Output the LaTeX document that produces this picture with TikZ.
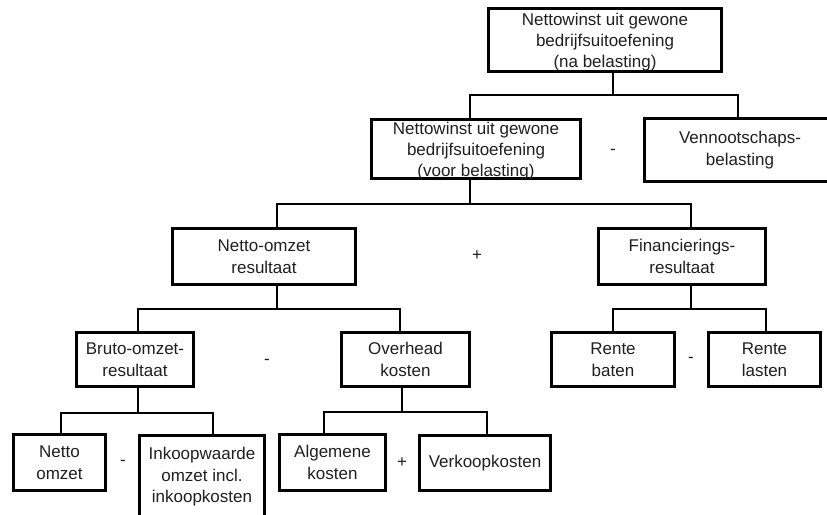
\documentclass[tikz,border=0pt]{standalone}
\usepackage{fontspec}
\setmainfont{Liberation Sans}
\begin{document}
\begin{tikzpicture}[x=1pt,y=-1pt,
  box/.style={draw=black,line width=3pt,align=center,inner sep=0pt,text=black!88,font=\fontsize{17}{21.5}\selectfont},
  txt/.style={align=center,inner sep=0pt,text=black!88,font=\fontsize{17}{21}\selectfont},
  conn/.style={draw=black,line width=2pt},
  op/.style={inner sep=0pt,text=black!88,font=\fontsize{17}{21.5}\selectfont}]
\useasboundingbox (0,0) rectangle (827,514);
% boxes
\node[box,minimum width=233,minimum height=63] (T) at (605,40) {};
\node[txt] (Tt) at (605,42.5) {Nettowinst uit gewone\\bedrijfsuitoefening\\(na belasting)};
\node[box,minimum width=209,minimum height=59] (V) at (476,149) {};
\node[txt] (Vt) at (476,151.5) {Nettowinst uit gewone\\bedrijfsuitoefening\\(voor belasting)};
\node[box,minimum width=191,minimum height=63] (VB) at (740,150) {Vennootschaps-\\belasting};
\node[box,minimum width=183,minimum height=56] (NR) at (264,256.5) {Netto-omzet\\resultaat};
\node[box,minimum width=167,minimum height=56] (FR) at (682,256.5) {Financierings-\\resultaat};
\node[box,minimum width=117,minimum height=54] (BR) at (135,359.5) {Bruto-omzet-\\resultaat};
\node[box,minimum width=128,minimum height=54] (OH) at (405.5,359.5) {Overhead\\kosten};
\node[box,minimum width=123,minimum height=54] (RB) at (613,359.5) {Rente\\baten};
\node[box,minimum width=112,minimum height=54] (RL) at (764.5,359.5) {Rente\\lasten};
\node[box,minimum width=92,minimum height=56] (NO) at (59.5,462.5) {Netto\\omzet};
\node[box,minimum width=125,minimum height=83] (IW) at (202,477) {Inkoopwaarde\\omzet incl.\\inkoopkosten};
\node[box,minimum width=106,minimum height=56] (AK) at (332.5,462.5) {Algemene\\kosten};
\node[box,minimum width=131,minimum height=55] (VK) at (485,463) {Verkoopkosten};
% operators
\node[op] (o1) at (613,152) {-};
\node[op] (o2) at (477,256) {+};
\node[op] (o3) at (267,362) {-};
\node[op] (o4) at (691,360) {-};
\node[op] (o5) at (123,463) {-};
\node[op] (o6) at (402,463) {+};
% junctions
\coordinate (bT) at (613,95);
\coordinate (bV) at (470,204);
\coordinate (bNR) at (277,309);
\coordinate (bFR) at (691,309);
\coordinate (bBR) at (138,413);
\coordinate (bOH) at (401.5,412);
% connectors
\draw[conn] (T.south -| bT) -- (bT);
\draw[conn] (bT) -| ([xshift=-6pt]V.north);
\draw[conn] (bT) -| ([xshift=-2pt]VB.north);
\draw[conn] (V.south -| bV) -- (bV);
\draw[conn] (bV) -| ([xshift=13pt]NR.north);
\draw[conn] (bV) -| ([xshift=9pt]FR.north);
\draw[conn] (NR.south -| bNR) -- (bNR);
\draw[conn] (bNR) -| ([xshift=3pt]BR.north);
\draw[conn] (bNR) -| ([xshift=-5.5pt]OH.north);
\draw[conn] (FR.south -| bFR) -- (bFR);
\draw[conn] (bFR) -| (RB.north);
\draw[conn] (bFR) -| ([xshift=1.5pt]RL.north);
\draw[conn] (BR.south -| bBR) -- (bBR);
\draw[conn] (bBR) -| ([xshift=1.5pt]NO.north);
\draw[conn] (bBR) -| ([xshift=11pt]IW.north);
\draw[conn] (OH.south -| bOH) -- (bOH);
\draw[conn] (bOH) -| ([xshift=-8.5pt]AK.north);
\draw[conn] (bOH) -| ([xshift=2pt]VK.north);
\end{tikzpicture}
\end{document}
